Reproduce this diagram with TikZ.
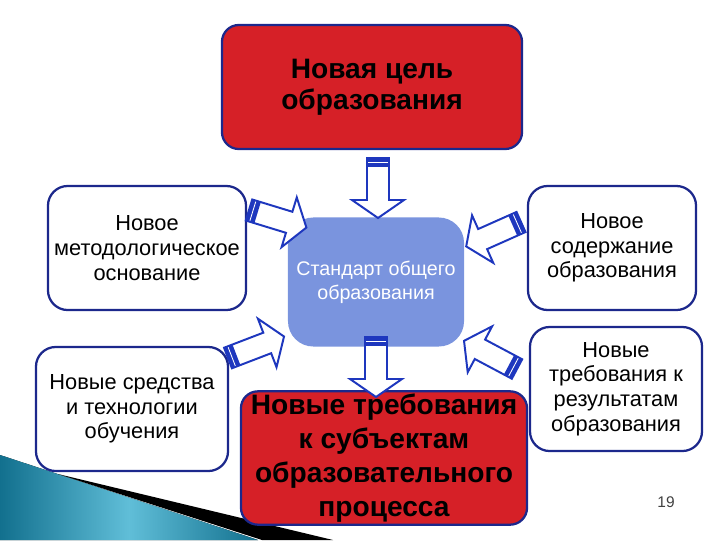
\documentclass[tikz,border=0pt]{standalone}
\usepackage{fontspec}
\setmainfont{Liberation Sans}
\usepackage{tikz}

\definecolor{goalred}{RGB}{214,32,39}
\definecolor{edgeblue}{RGB}{28,40,140}
\definecolor{arrblue}{RGB}{30,55,190}
\definecolor{stdblue}{RGB}{122,148,222}
\definecolor{tealdark}{RGB}{18,112,142}
\definecolor{teallight}{RGB}{96,190,216}

% block arrow with striped tail: #1 tail coordinate, #2 angle
\newcommand{\blockarr}[2]{%
  \begin{scope}[shift={(#1)}, rotate=#2]
    \draw[arrline] (0,-11) -- (42,-11) -- (42,-26) -- (60,0) -- (42,26) -- (42,11) -- (0,11) -- cycle;
    \fill[arrblue] (0,-11) rectangle (9,11);
    \draw[white, line width=0.6pt] (4,-10) -- (4,10);
  \end{scope}}

\begin{document}
\begin{tikzpicture}[
    x=0.025cm, y=-0.025cm,
    box/.style={draw=edgeblue, line width=1.6pt, fill=white, rounded corners=14pt, align=center, inner sep=2pt, font=\fontsize{15.5}{17.5}\selectfont},
    redbox/.style={box, fill=goalred, rounded corners=12pt, font=\bfseries\fontsize{20}{22}\selectfont},
    arrline/.style={draw=arrblue, fill=white, line width=1.4pt, line join=miter}
]
\useasboundingbox (0,0) rectangle (720,540);

% corner decoration
\fill[left color=tealdark, right color=tealdark, middle color=teallight] (0,455) -- (258,540) -- (0,540) -- cycle;
\fill[black] (58,474) -- (333,540) -- (262,540) -- cycle;

\node[redbox, minimum width=7.5cm, minimum height=3.1cm] (goal) at (372,87) {Новая цель\\образования};
\node[box, minimum width=4.95cm, minimum height=3.1cm] (method) at (147,248) {Новое\\методологическое\\основание};
\node[box, minimum width=4.8cm, minimum height=3.1cm] (tools) at (132,409) {Новые средства\\и технологии\\обучения};
\node[box, draw=none, fill=stdblue, text=white, rounded corners=18pt, minimum width=4.4cm, minimum height=3.225cm, font=\fontsize{14}{17}\selectfont] (std) at (376,282) {Стандарт общего\\образования};
\node[box, minimum width=4.2cm, minimum height=3.1cm] (content) at (612,248) {Новое\\содержание\\образования};
\node[box, minimum width=4.3cm, minimum height=3.1cm] (results) at (616,389) {Новые\\требования к\\результатам\\образования};
\node[redbox, minimum width=7.15cm, minimum height=3.2cm, font=\bfseries\fontsize{20}{24}\selectfont] (subj) at (384,458) {Новые требования\\к субъектам\\образовательного\\процесса};
\node[font=\fontsize{11}{13}\selectfont, text=black!75] (pnum) at (666,502) {19};

% arrows into the standard
\coordinate (t1) at (378,158);
\coordinate (t2) at (249,210);
\coordinate (t3) at (228,358);
\coordinate (t4) at (521,222);
\coordinate (t5) at (517,369);
\coordinate (t6) at (376,337);
\blockarr{t1}{-90}
\blockarr{t2}{-17}
\blockarr{t3}{21}
\blockarr{t4}{-156}
\blockarr{t5}{152}
\blockarr{t6}{-90}
\end{tikzpicture}
\end{document}
